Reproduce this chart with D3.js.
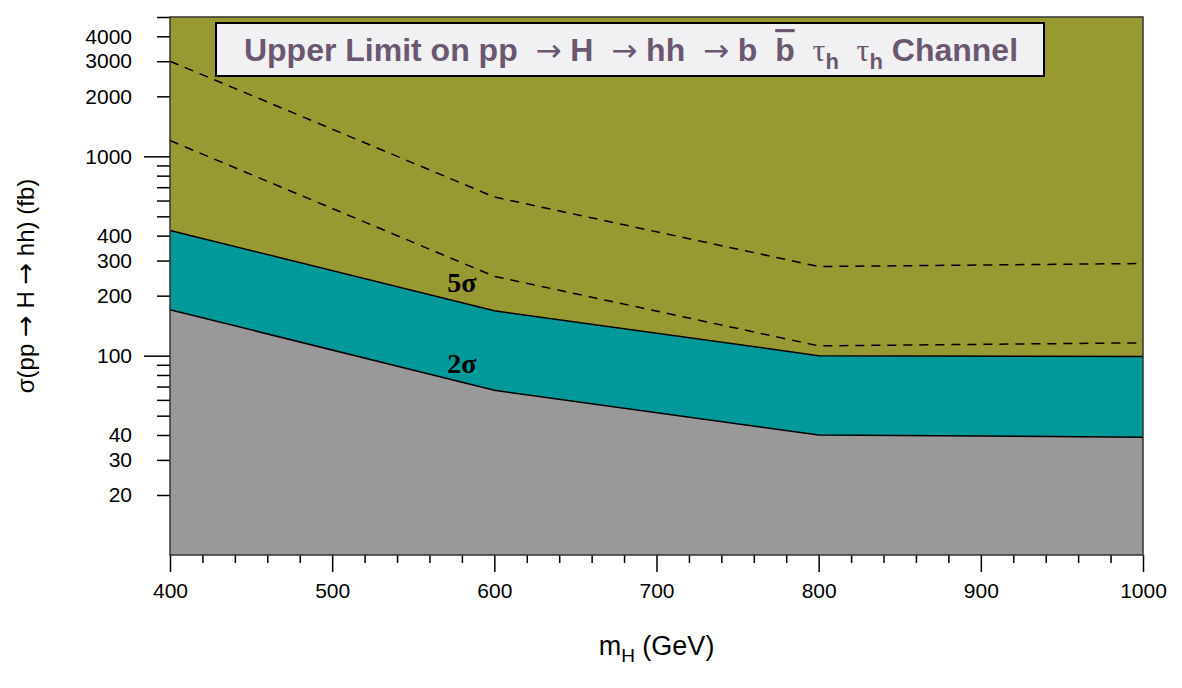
<!DOCTYPE html>
<html>
<head>
<meta charset="utf-8">
<script src="https://cdn.jsdelivr.net/npm/d3@7"></script>
<style>
  body { margin: 0; background: #fff; }
  text { font-family: "Liberation Sans", Arial, sans-serif; white-space: pre; }
</style>
</head>
<body>
<div id="chart"></div>
<script>
// values
var massPoints = [400, 600, 800, 1000];
var limit2Sigma = [170, 67, 40, 39];
var limit5Sigma = [425, 168, 100, 99];
var dashedUpper = [3000, 625, 280, 290];
var dashedLower = [1200, 250, 112, 116];
var yTickLabels = [20, 30, 40, 100, 200, 300, 400, 1000, 2000, 3000, 4000];
var xTickLabels = [400, 500, 600, 700, 800, 900, 1000];

var svgWidth = 1182;
var svgHeight = 688;

var margin = { top: 17, right: 39, bottom: 133, left: 170 };
var width = svgWidth - margin.left - margin.right;
var height = svgHeight - margin.top - margin.bottom;

var svg = d3.select("#chart")
  .append("svg")
  .attr("width", svgWidth)
  .attr("height", svgHeight);

var chartGroup = svg.append("g")
  .attr("transform", `translate(${margin.left}, ${margin.top})`);

var xScale = d3.scaleLinear().domain([400, 1000]).range([0, width]);
var yScale = d3.scaleLog().domain([10, 5000]).range([height, 0]);

var rows = massPoints.map(function(m, i) {
  return { m: m, lo: limit2Sigma[i], hi: limit5Sigma[i], du: dashedUpper[i], dl: dashedLower[i] };
});

// bands
chartGroup.append("path")
  .datum(rows)
  .attr("fill", "#999933")
  .attr("d", d3.area().x(d => xScale(d.m)).y0(d => yScale(d.hi)).y1(0));

chartGroup.append("path")
  .datum(rows)
  .attr("fill", "#009999")
  .attr("d", d3.area().x(d => xScale(d.m)).y0(d => yScale(d.lo)).y1(d => yScale(d.hi)));

chartGroup.append("path")
  .datum(rows)
  .attr("fill", "#999999")
  .attr("d", d3.area().x(d => xScale(d.m)).y0(height).y1(d => yScale(d.lo)));

var line = function(key) {
  return d3.line().x(d => xScale(d.m)).y(d => yScale(d[key]));
};

["lo", "hi"].forEach(function(k) {
  chartGroup.append("path")
    .datum(rows)
    .attr("fill", "none")
    .attr("stroke", "#000")
    .attr("stroke-width", 1.5)
    .attr("d", line(k));
});

["du", "dl"].forEach(function(k) {
  chartGroup.append("path")
    .datum(rows)
    .attr("fill", "none")
    .attr("stroke", "#000")
    .attr("stroke-width", 1.5)
    .attr("stroke-dasharray", "9,7")
    .attr("d", line(k));
});

// sigma labels
chartGroup.append("text")
  .attr("x", xScale(571))
  .attr("y", yScale(209))
  .style("font-family", "'Liberation Serif', 'Times New Roman', serif")
  .style("font-weight", "bold")
  .style("font-size", "28px")
  .text("5σ");

chartGroup.append("text")
  .attr("x", xScale(571))
  .attr("y", yScale(82))
  .style("font-family", "'Liberation Serif', 'Times New Roman', serif")
  .style("font-weight", "bold")
  .style("font-size", "28px")
  .text("2σ");

// axes
var yTicks = [];
[10, 100, 1000].forEach(function(dec) {
  for (var k = 1; k <= 9; k++) {
    if (dec * k <= 5000 && dec * k > 10) yTicks.push(dec * k);
  }
});

var yAxis = d3.axisLeft(yScale)
  .tickValues(yTicks)
  .tickSize(13)
  .tickPadding(25)
  .tickFormat(d => yTickLabels.indexOf(d) >= 0 ? d : "");

var yAxisG = chartGroup.append("g").call(yAxis);
yAxisG.select(".domain").remove();
yAxisG.selectAll(".tick line")
  .attr("stroke-width", 1.5)
  .attr("x2", d => (d === 100 || d === 1000) ? -26 : -13);
yAxisG.selectAll(".tick text")
  .style("font-size", "21px")
  .attr("fill", "#000");

var xAxis = d3.axisBottom(xScale)
  .tickValues(d3.range(400, 1001, 20))
  .tickSize(8)
  .tickPadding(20)
  .tickFormat(d => xTickLabels.indexOf(d) >= 0 ? d : "");

var xAxisG = chartGroup.append("g")
  .attr("transform", `translate(0, ${height})`)
  .call(xAxis);
xAxisG.select(".domain").remove();
xAxisG.selectAll(".tick line")
  .attr("stroke-width", 1.5)
  .attr("y2", d => d % 100 === 0 ? 17 : 8);
xAxisG.selectAll(".tick text")
  .style("font-size", "21px")
  .attr("fill", "#000");

// frame
chartGroup.append("rect")
  .attr("width", width)
  .attr("height", height)
  .attr("fill", "none")
  .attr("stroke", "#333")
  .attr("stroke-width", 1.5);

// axis titles
var xTitle = svg.append("text")
  .attr("x", margin.left + width / 2)
  .attr("y", 655)
  .attr("text-anchor", "middle")
  .style("font-size", "27px");
xTitle.append("tspan").text("m");
xTitle.append("tspan").attr("dy", 7).style("font-size", "19px").text("H");
xTitle.append("tspan").attr("dy", -7).text(" (GeV)");

var arrowFont = "'DejaVu Sans', sans-serif";

var yTitle = svg.append("text")
  .attr("transform", `translate(34, ${margin.top + height / 2}) rotate(-90)`)
  .attr("text-anchor", "middle")
  .style("font-size", "24px");
yTitle.append("tspan").text("σ(pp ");
yTitle.append("tspan").style("font-family", arrowFont).style("font-size", "26px").text("→");
yTitle.append("tspan").text(" H ");
yTitle.append("tspan").style("font-family", arrowFont).style("font-size", "26px").text("→");
yTitle.append("tspan").text(" hh) (fb)");

// title box
svg.append("rect")
  .attr("x", 216)
  .attr("y", 23)
  .attr("width", 828)
  .attr("height", 53)
  .attr("fill", "#f1f1f3")
  .attr("stroke", "#000")
  .attr("stroke-width", 2);

var title = svg.append("text")
  .attr("x", 631)
  .attr("y", 61)
  .attr("text-anchor", "middle")
  .attr("fill", "#6b5870")
  .style("font-size", "32px")
  .style("font-weight", "bold");

var serif = "'Liberation Serif', 'Times New Roman', serif";
function arrow() {
  title.append("tspan")
    .style("font-weight", "normal")
    .style("font-family", arrowFont)
    .style("font-size", "31px")
    .text("→");
}

title.append("tspan").text("Upper Limit on pp  ");
arrow();
title.append("tspan").text(" H  ");
arrow();
title.append("tspan").text(" hh  ");
arrow();
title.append("tspan").text(" b  ");
title.append("tspan").style("text-decoration", "overline").text("b");
title.append("tspan").text("  ");
title.append("tspan").style("font-weight", "normal").style("font-family", serif).text("τ");
title.append("tspan").attr("dy", 8).style("font-size", "22px").text("h");
title.append("tspan").attr("dy", -8).text("  ");
title.append("tspan").style("font-weight", "normal").style("font-family", serif).text("τ");
title.append("tspan").attr("dy", 8).style("font-size", "22px").text("h");
title.append("tspan").attr("dy", -8).text(" Channel");
</script>
</body>
</html>
